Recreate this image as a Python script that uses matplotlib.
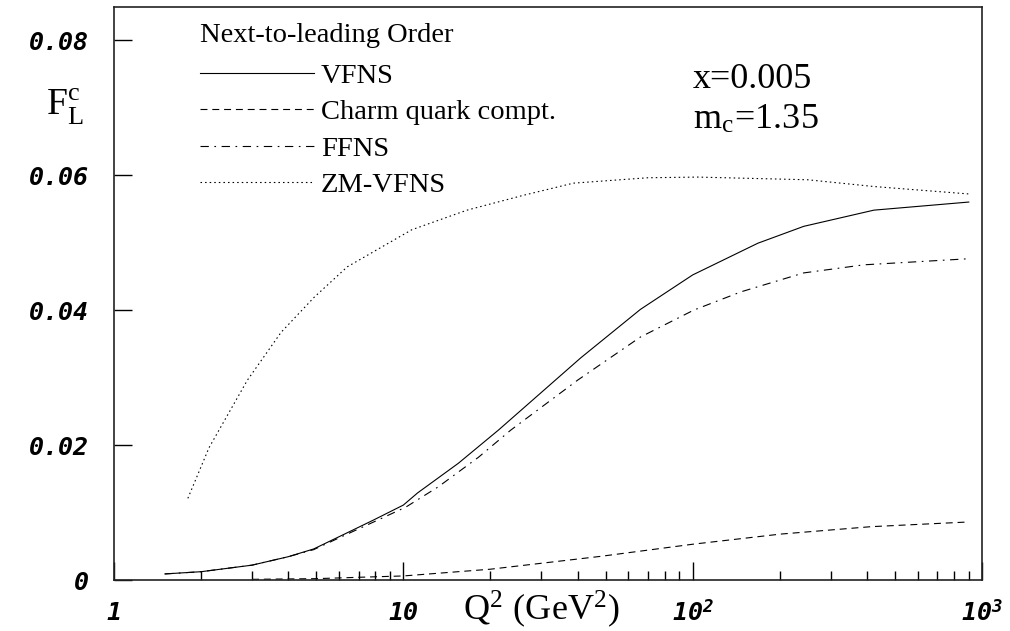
import numpy as np
import matplotlib
matplotlib.use('Agg')
import matplotlib.pyplot as plt
from matplotlib.ticker import FixedLocator, NullFormatter
#
# F_L^c vs Q^2 at x=0.005, NLO, four schemes
q2_vfns = [1.5, 2.0, 3.0, 4.0, 4.9, 6.4, 7.9, 10, 11.2, 15.5, 21.3, 41, 66, 100, 168, 242, 423, 900]
fl_vfns = [0.0009, 0.00123, 0.0022, 0.00345, 0.0046, 0.0070, 0.0089, 0.0111, 0.0129, 0.0173,
           0.0222, 0.0329, 0.0401, 0.0452, 0.0499, 0.0524, 0.0548, 0.0560]
#
q2_charm = [3.0, 5.0, 7.0, 10, 20, 48, 100, 201, 413, 900]
fl_charm = [0.0001, 0.0002, 0.0004, 0.0006, 0.0016, 0.0035, 0.0053, 0.0068, 0.0079, 0.0086]
#
q2_ffns = [1.5, 2.0, 3.0, 4.0, 4.9, 6.4, 7.9, 10.2, 13.2, 18.2, 23.5, 40, 66, 101, 147, 242, 391, 900]
fl_ffns = [0.0009, 0.00123, 0.0022, 0.00345, 0.0045, 0.0068, 0.0086, 0.0108, 0.0138, 0.0182,
           0.0222, 0.0296, 0.0360, 0.0400, 0.0427, 0.0455, 0.0467, 0.0476]
#
q2_zm = [1.8, 2.13, 2.89, 3.78, 4.92, 6.4, 8.39, 10.7, 16.6, 26, 38.7, 70, 104, 250, 423, 900]
fl_zm = [0.0121, 0.0196, 0.0296, 0.0367, 0.0419, 0.0464, 0.0493, 0.0519, 0.0548, 0.0570,
         0.0588, 0.0596, 0.0597, 0.0593, 0.0583, 0.0572]
#
labels = ['VFNS', 'Charm quark compt.', 'FFNS', 'ZM-VFNS']
xtick_vals = [1, 10, 100, 1000]
xtick_labels = ['1', '10', r'10$^\mathregular{2}$', r'10$^\mathregular{3}$']
ytick_vals = [0, 0.02, 0.04, 0.06, 0.08]
ytick_labels = ['0', '0.02', '0.04', '0.06', '0.08']
#
plt.rcParams['lines.scale_dashes'] = False
plt.rcParams['mathtext.fontset'] = 'stix'
serif = 'Liberation Serif'
tickfont = dict(family='DejaVu Sans Mono', weight='bold', style='oblique', size=18)
#
fig = plt.figure(figsize=(10.1, 6.31), dpi=100)
ax = fig.add_axes([114/1010, 1-580/631, 868/1010, 573/631])
#
lw = 0.8
ax.plot(q2_vfns, fl_vfns, color='black', lw=lw, ls='-', label=labels[0])
ax.plot(q2_charm, fl_charm, color='black', lw=lw, ls=(0, (5, 3.5)), label=labels[1])
ax.plot(q2_ffns, fl_ffns, color='black', lw=lw, ls=(0, (6, 4, 1.2, 4)), label=labels[2])
ax.plot(q2_zm, fl_zm, color='black', lw=lw, ls=(0, (1.1, 2.2)), label=labels[3])
#
ax.set_xscale('log')
ax.set_xlim(1, 1000)
ax.set_ylim(0, 0.0849)
#
ax.xaxis.set_major_locator(FixedLocator(xtick_vals))
minors = [m * 10 ** d for d in range(3) for m in range(2, 10)]
ax.xaxis.set_minor_locator(FixedLocator(minors))
ax.xaxis.set_minor_formatter(NullFormatter())
ax.set_xticklabels(xtick_labels, **tickfont)
ax.set_yticks(ytick_vals)
ax.set_yticklabels(ytick_labels, **tickfont)
ax.tick_params(axis='x', which='major', direction='in', length=13, width=1, pad=15, top=False)
ax.tick_params(axis='x', which='minor', direction='in', length=6.5, width=1, top=False)
ax.tick_params(axis='y', which='major', direction='in', length=13, width=1, pad=18, right=False)
ax.tick_params(axis='y', which='minor', left=False, right=False)
for sp in ax.spines.values():
    sp.set_linewidth(1.2)
    sp.set_color('#222222')
#
leg = ax.legend(loc='upper left', bbox_to_anchor=((200-114)/868, (580-23)/573),
                frameon=False, borderpad=0, borderaxespad=0, handlelength=4.0,
                handletextpad=0.25, labelspacing=0.36, title='Next-to-leading Order',
                alignment='left', prop={'family': serif, 'size': 20.5},
                title_fontproperties={'family': serif, 'size': 20.5})
leg._legend_box.sep = 11
#
fig.text(693/1010, 1-88/631, 'x=0.005', family=serif, size=26, va='baseline')
fig.text(693/1010, 1-128/631, r'm$_\mathregular{c}$=1.35', family=serif, size=26, va='baseline')
fig.text(46/1010, 1-115/631, r'F$_\mathregular{L}^\mathregular{c}$', family=serif, size=27, va='baseline')
fig.text(463/1010, 1-620/631, r'Q$^\mathregular{2}$ (GeV$^\mathregular{2}$)', family=serif, size=26,
         va='baseline')
#
fig.savefig('out.png', dpi=100)
